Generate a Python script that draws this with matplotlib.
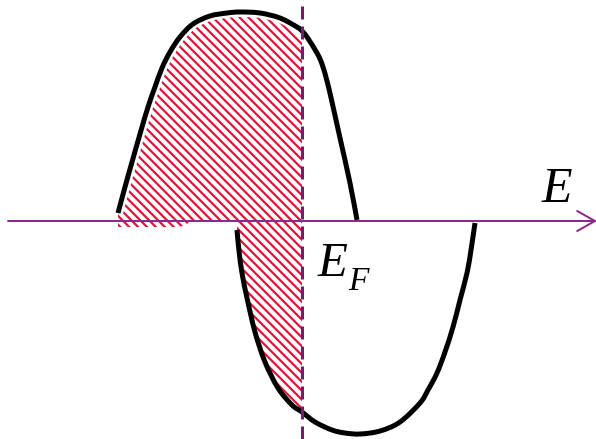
import matplotlib
matplotlib.use("Agg")
import numpy as np
from matplotlib import pyplot as plt
from matplotlib import patheffects as pe
from matplotlib.path import Path
from matplotlib.patches import PathPatch

# energy grid and spin-resolved density of states (arbitrary units)
e_up = [118, 125, 132, 140, 148, 155, 162, 170, 180, 193, 210, 227, 240, 260,
        280, 297, 302, 307, 317, 322, 327, 332, 340, 350, 357]
dos_up = [8, 34, 59, 87, 114, 134, 153, 169, 184, 197, 205, 208, 209, 208,
          203, 194, 190, 184, 168, 157, 140, 119, 83, 38, 1]

e_down = [237, 239, 242, 247, 255, 265, 278, 292, 302, 315, 332, 345, 360, 380, 400,
          420, 428, 437, 445, 453, 460, 467, 471, 475]
dos_down = [-9, -30, -52, -77, -111, -141, -167, -184, -191, -201, -209, -212, -213, -210, -201,
            -182, -169, -152, -131, -106, -79, -52, -29, -2]

e_fermi = 302

hatch_red = "#E0143C"
axis_purple = "#8A2A8A"
dash_purple = "#6E1F6E"

plt.rcParams["hatch.linewidth"] = 2.0
plt.rcParams["lines.scale_dashes"] = False


def smooth_path(xs, ys):
    # Catmull-Rom through the points, written as cubic Bezier segments
    pts = np.column_stack([xs, ys]).astype(float)
    ext = np.vstack([pts[0], pts, pts[-1]])
    verts = [pts[0]]
    codes = [Path.MOVETO]
    for i in range(1, len(ext) - 2):
        p0, p1, p2, p3 = ext[i - 1], ext[i], ext[i + 1], ext[i + 2]
        verts += [p1 + (p2 - p0) / 6, p2 - (p3 - p1) / 6, p2]
        codes += [Path.CURVE4] * 3
    return Path(verts, codes)


fig = plt.figure(figsize=(596 / 80, 439 / 80), dpi=80)
ax = fig.add_axes([0, 0, 1, 1])
ax.set_xlim(0, 596)
ax.set_ylim(-218, 221)
ax.axis("off")

e_up = np.array(e_up)
dos_up = np.array(dos_up)
e_down = np.array(e_down)
dos_down = np.array(dos_down)

# occupied states below the Fermi level
occ = e_up <= e_fermi
base = np.where(e_up[occ] < 187, -6, 0)
ax.fill_between(e_up[occ], base, dos_up[occ], facecolor="white", edgecolor=hatch_red,
                hatch="\\\\\\", linewidth=0, zorder=1)
occ = e_down <= e_fermi
ax.fill_between(e_down[occ], 0, dos_down[occ], facecolor="white", edgecolor=hatch_red,
                hatch="\\\\\\", linewidth=0, zorder=1)

up = PathPatch(smooth_path(e_up, dos_up), facecolor="none", edgecolor="black",
               lw=4.5, capstyle="butt", zorder=3)
up.set_path_effects([pe.Stroke(linewidth=9, foreground="white"), pe.Normal()])
ax.add_patch(up)
ax.add_patch(PathPatch(smooth_path(e_down, dos_down), facecolor="none", edgecolor="black",
                       lw=4.5, capstyle="butt", zorder=3))

# energy axis
ax.annotate("", xy=(597, 0), xytext=(8, 0), annotation_clip=False,
            arrowprops=dict(arrowstyle="->,head_length=1.6,head_width=0.9",
                            color=axis_purple, lw=1.8, shrinkA=0, shrinkB=0),
            zorder=4)

# Fermi level
ax.plot([e_fermi, e_fermi], [-218, 221], color=dash_purple, lw=2.7,
        linestyle=(0, (11.7, 6.3)), zorder=5)

serif = ["Liberation Serif", "DejaVu Serif"]
ax.text(557, 31, "E", family=serif, style="italic", fontsize=45,
        ha="center", va="center")
ax.text(333, -43, "E", family=serif, style="italic", fontsize=44,
        ha="center", va="center")
ax.text(358, -61, "F", family=serif, style="italic", fontsize=30,
        ha="center", va="center")

fig.savefig("out.png", dpi=80)
